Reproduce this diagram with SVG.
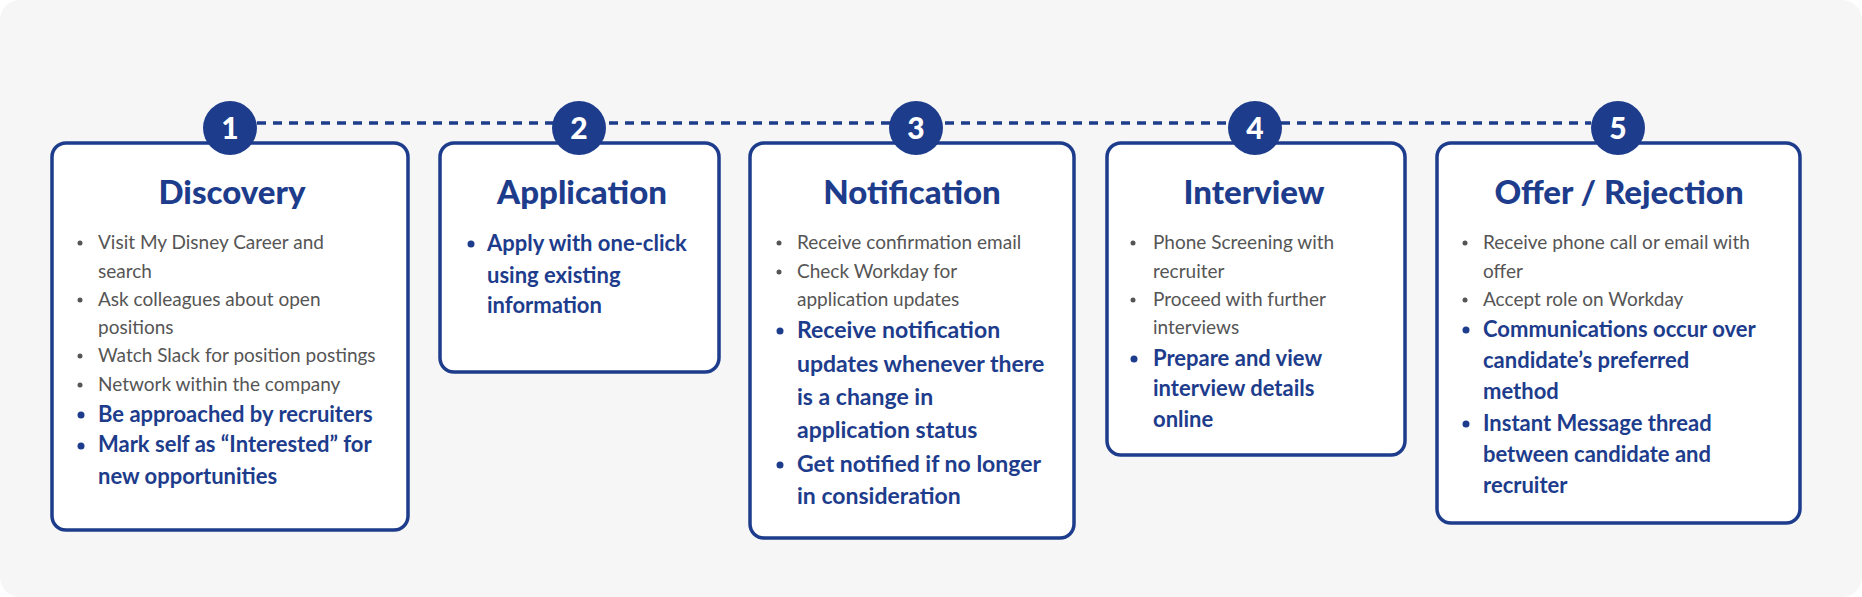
<svg xmlns="http://www.w3.org/2000/svg" width="1862" height="597" viewBox="0 0 1862 597">
<style>
.box{fill:#ffffff;stroke:#1d3c8c;stroke-width:3.5}
.num{fill:#1d3c8c}
.numt{font-family:Lato,"Open Sans",sans-serif;font-weight:900;font-size:30px;fill:#ffffff;text-anchor:middle}
.title{font-family:Lato,"Open Sans",sans-serif;font-weight:900;font-size:33px;fill:#1d3c8c;text-anchor:middle}
.g{font-family:Lato,"Open Sans",sans-serif;font-size:19px;fill:#555555}
.b{font-family:Lato,"Open Sans",sans-serif;font-weight:700;font-size:22px;fill:#1d3c8c}
.b3{font-size:23px}
.gd{fill:#555555}
.bd{fill:#1d3c8c}
.dash{stroke:#1d3c8c;stroke-width:3.5;stroke-dasharray:9 7;fill:none}
</style>
<rect x="0" y="0" width="1862" height="597" rx="20" fill="#f6f6f6"/>
<g id="connectors">
<line class="dash" x1="257" y1="123" x2="1591" y2="123"/>
</g>
<g id="node1">
<rect class="box" x="52" y="143" width="356" height="387" rx="14"/>
<circle class="num" cx="230" cy="128" r="27"/>
<text class="numt" x="230" y="139">1</text>
<text class="title" x="232" y="204">Discovery</text>
<circle class="gd" cx="80" cy="243" r="2.5"/>
<text class="g" x="98" y="249">Visit My Disney Career and</text>
<text class="g" x="98" y="278">search</text>
<circle class="gd" cx="80" cy="300" r="2.5"/>
<text class="g" x="98" y="306">Ask colleagues about open</text>
<text class="g" x="98" y="334">positions</text>
<circle class="gd" cx="80" cy="356" r="2.5"/>
<text class="g" x="98" y="362">Watch Slack for position postings</text>
<circle class="gd" cx="80" cy="385" r="2.5"/>
<text class="g" x="98" y="391">Network within the company</text>
<circle class="bd" cx="81" cy="415" r="3.5"/>
<text class="b" x="98" y="422">Be approached by recruiters</text>
<circle class="bd" cx="81" cy="446" r="3.5"/>
<text class="b" x="98" y="452">Mark self as “Interested” for</text>
<text class="b" x="98" y="484">new opportunities</text>
</g>
<g id="node2">
<rect class="box" x="440" y="143" width="279" height="229" rx="14"/>
<circle class="num" cx="579" cy="128" r="27"/>
<text class="numt" x="579" y="139">2</text>
<text class="title" x="582" y="204">Application</text>
<circle class="bd" cx="471" cy="244" r="3.5"/>
<text class="b" x="487" y="251">Apply with one-click</text>
<text class="b" x="487" y="283">using existing</text>
<text class="b" x="487" y="313">information</text>
</g>
<g id="node3">
<rect class="box" x="750" y="143" width="324" height="395" rx="14"/>
<circle class="num" cx="916" cy="128" r="27"/>
<text class="numt" x="916" y="139">3</text>
<text class="title" x="912" y="204">Notification</text>
<circle class="gd" cx="779" cy="243" r="2.5"/>
<text class="g" x="797" y="249">Receive confirmation email</text>
<circle class="gd" cx="779" cy="272" r="2.5"/>
<text class="g" x="797" y="278">Check Workday for</text>
<text class="g" x="797" y="306">application updates</text>
<circle class="bd" cx="780" cy="331" r="3.5"/>
<text class="b b3" x="797" y="338">Receive notification</text>
<text class="b b3" x="797" y="372">updates whenever there</text>
<text class="b b3" x="797" y="405">is a change in</text>
<text class="b b3" x="797" y="438">application status</text>
<circle class="bd" cx="780" cy="465" r="3.5"/>
<text class="b b3" x="797" y="472">Get notified if no longer</text>
<text class="b b3" x="797" y="504">in consideration</text>
</g>
<g id="node4">
<rect class="box" x="1107" y="143" width="298" height="312" rx="14"/>
<circle class="num" cx="1255" cy="128" r="27"/>
<text class="numt" x="1255" y="139">4</text>
<text class="title" x="1254" y="204">Interview</text>
<circle class="gd" cx="1133" cy="243" r="2.5"/>
<text class="g" x="1153" y="249">Phone Screening with</text>
<text class="g" x="1153" y="278">recruiter</text>
<circle class="gd" cx="1133" cy="300" r="2.5"/>
<text class="g" x="1153" y="306">Proceed with further</text>
<text class="g" x="1153" y="334">interviews</text>
<circle class="bd" cx="1134" cy="359" r="3.5"/>
<text class="b" x="1153" y="366">Prepare and view</text>
<text class="b" x="1153" y="396">interview details</text>
<text class="b" x="1153" y="427">online</text>
</g>
<g id="node5">
<rect class="box" x="1437" y="143" width="363" height="380" rx="14"/>
<circle class="num" cx="1618" cy="128" r="27"/>
<text class="numt" x="1618" y="139">5</text>
<text class="title" x="1619" y="204">Offer / Rejection</text>
<circle class="gd" cx="1465" cy="243" r="2.5"/>
<text class="g" x="1483" y="249">Receive phone call or email with</text>
<text class="g" x="1483" y="278">offer</text>
<circle class="gd" cx="1465" cy="300" r="2.5"/>
<text class="g" x="1483" y="306">Accept role on Workday</text>
<circle class="bd" cx="1466" cy="330" r="3.5"/>
<text class="b" x="1483" y="337">Communications occur over</text>
<text class="b" x="1483" y="368">candidate’s preferred</text>
<text class="b" x="1483" y="399">method</text>
<circle class="bd" cx="1466" cy="424" r="3.5"/>
<text class="b" x="1483" y="431">Instant Message thread</text>
<text class="b" x="1483" y="462">between candidate and</text>
<text class="b" x="1483" y="493">recruiter</text>
</g>
</svg>
